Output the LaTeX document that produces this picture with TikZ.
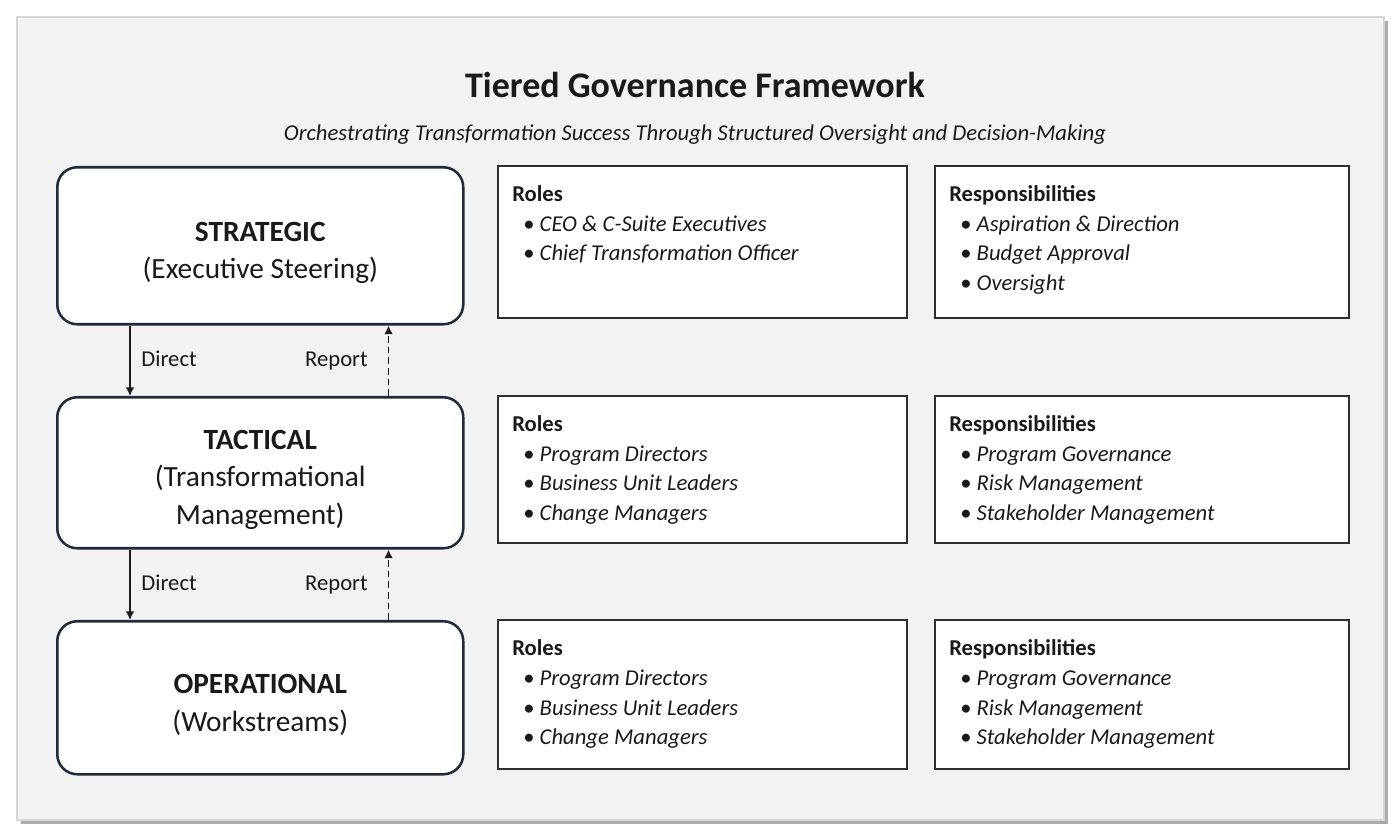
\documentclass[tikz,border=0pt]{standalone}
\usepackage{fontspec}
\setmainfont{Carlito}
\usetikzlibrary{calc}
\usetikzlibrary{arrows.meta}
\definecolor{panelfill}{HTML}{F2F2F2}
\definecolor{paneledge}{HTML}{D6D6D6}
\definecolor{panelshadow}{HTML}{ABABAB}
\definecolor{tieredge}{HTML}{1F2B3A}
\definecolor{infoedge}{HTML}{2E2E2E}
\definecolor{inktext}{HTML}{1A1A1A}
\tikzset{
  tier/.style={draw=tieredge, line width=1.9pt, fill=white, rounded corners=15pt,
    anchor=north west, minimum width=406*0.75pt, inner sep=0pt},
  tiertext/.style={align=center, text=inktext, inner sep=0pt, font=\fontsize{22}{28}\selectfont},
  info/.style={draw=infoedge, line width=1.4pt, fill=white, anchor=north west, inner sep=0pt},
  infohead/.style={anchor=base west, inner sep=0pt, text=inktext, font=\fontsize{17}{20}\selectfont\bfseries},
  infoitem/.style={anchor=base west, inner sep=0pt, text=inktext, font=\fontsize{17}{20}\selectfont},
  flowlabel/.style={inner sep=0pt, text=inktext, text height=8pt, text depth=0pt, font=\fontsize{17}{20}\selectfont},
  flow/.style={draw=inktext, line width=1.2pt, -{Latex[length=6.5pt,width=6.5pt]}},
}
\newcommand{\tierbox}[5]{
  \node[tier, minimum height=#3*0.75pt] (#1) at (56,#2) {};
  \node[tiertext] (#1-text) at ($(#1.center)+(0,7)$) {\textbf{#4}\\#5};
}
\newcommand{\infobox}[7]{
  \node[info, minimum width=#4*0.75pt, minimum height=#5*0.75pt] (#1) at (#2,#3) {};
  \node[infohead] (#1-head) at ($(#1.north west)+(15,37)$) {#6};
  \foreach \txt [count=\i] in {#7}
    \node[infoitem] (#1-item\i) at ($(#1-head.base west)+(11,29.5*\i)$) {\textbullet\ \textit{\txt}};
}

\begin{document}
\begin{tikzpicture}[x=0.75pt, y=-0.75pt]
  \useasboundingbox (0,0) rectangle (1400,837);

  % panel
  \fill[panelshadow] (21,21) rectangle (1388,824);
  \draw[paneledge, fill=panelfill, line width=0.9pt] (17,17) rectangle (1384,820);

  % heading
  \node[anchor=base, text=inktext, font=\fontsize{27}{32}\selectfont\bfseries] (title) at (695,98) {Tiered Governance Framework};
  \node[anchor=base, text=inktext, font=\fontsize{17}{20}\selectfont\itshape] (subtitle) at (695,141) {Orchestrating Transformation Success Through Structured Oversight and Decision-Making};

  % tiers
  \tierbox{strat}{166}{157}{STRATEGIC}{(Executive Steering)}
  \tierbox{tact}{396}{151}{TACTICAL}{(Transformational\\Management)}
  \tierbox{oper}{620}{153}{OPERATIONAL}{(Workstreams)}

  % direct / report
  \draw[flow] ($(strat.south west)+(74,0)$) -- ($(tact.north west)+(74,0)$)
    node[flowlabel, midway, anchor=west, xshift=8pt] (direct1) {Direct};
  \draw[flow, dash pattern=on 5pt off 3pt] ($(tact.north east)+(-76,0)$) -- ($(strat.south east)+(-76,0)$)
    node[flowlabel, midway, anchor=east, xshift=-15pt] (report1) {Report};
  \draw[flow] ($(tact.south west)+(74,0)$) -- ($(oper.north west)+(74,0)$)
    node[flowlabel, midway, anchor=west, xshift=8pt] (direct2) {Direct};
  \draw[flow, dash pattern=on 5pt off 3pt] ($(oper.north east)+(-76,0)$) -- ($(tact.south east)+(-76,0)$)
    node[flowlabel, midway, anchor=east, xshift=-15pt] (report2) {Report};

  % row 1
  \infobox{roles1}{497}{165}{409}{152}{Roles}{CEO \& C-Suite Executives, Chief Transformation Officer}
  \infobox{resp1}{934}{165}{414}{152}{Responsibilities}{Aspiration \& Direction, Budget Approval, Oversight}
  % row 2
  \infobox{roles2}{497}{395}{409}{147}{Roles}{Program Directors, Business Unit Leaders, Change Managers}
  \infobox{resp2}{934}{395}{414}{147}{Responsibilities}{Program Governance, Risk Management, Stakeholder Management}
  % row 3
  \infobox{roles3}{497}{619}{409}{149}{Roles}{Program Directors, Business Unit Leaders, Change Managers}
  \infobox{resp3}{934}{619}{414}{149}{Responsibilities}{Program Governance, Risk Management, Stakeholder Management}
\end{tikzpicture}
\end{document}
